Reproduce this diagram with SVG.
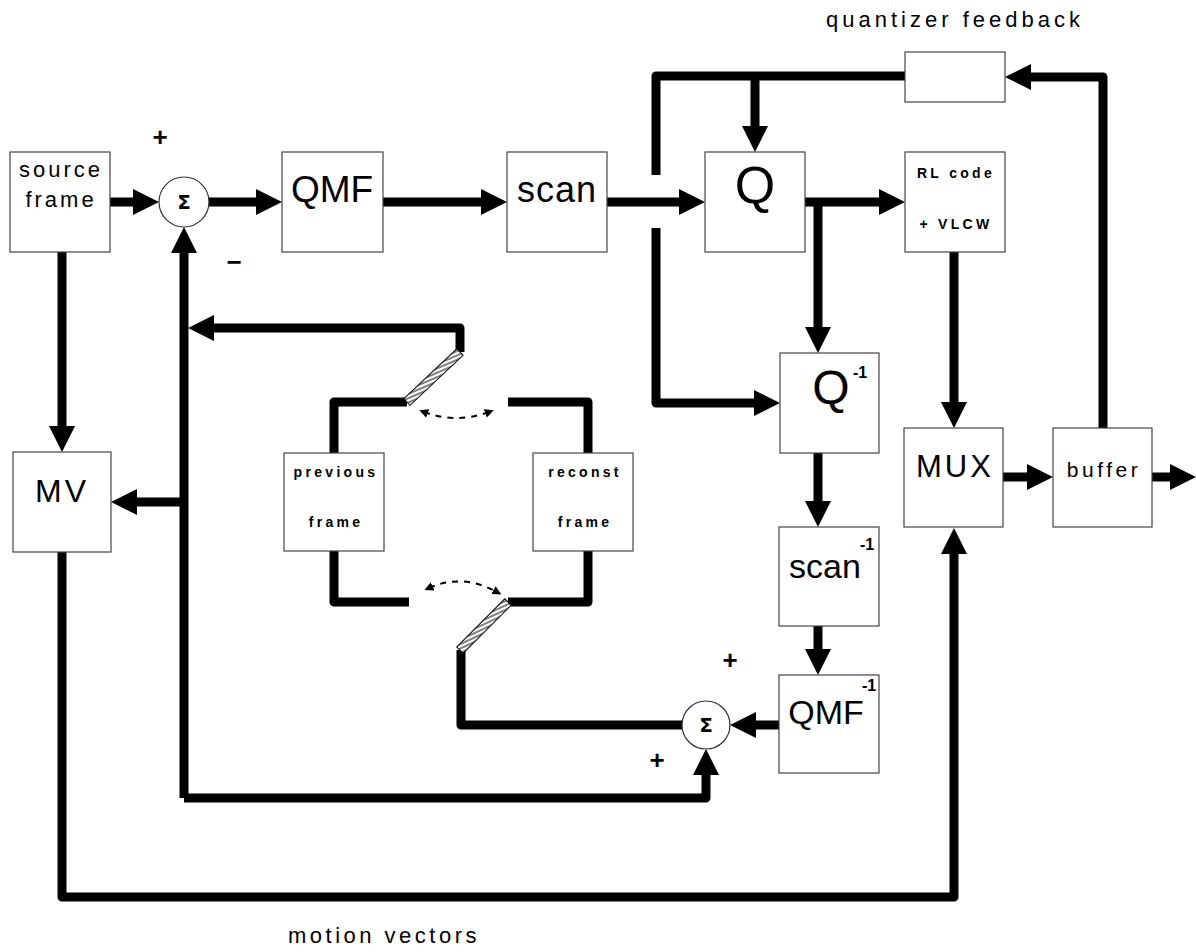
<svg xmlns="http://www.w3.org/2000/svg" width="1196" height="952" viewBox="0 0 1196 952">
<style>
.box{fill:#fff;stroke:#444;stroke-width:1.2}
.c{fill:none;stroke:#000;stroke-width:9;stroke-linejoin:round}
.d{fill:none;stroke:#000;stroke-width:2;stroke-dasharray:6 6}
.t{font-family:"Liberation Sans",Arial,sans-serif;fill:#000;text-anchor:middle}
.s{font-family:"Liberation Sans",Arial,sans-serif;fill:#000;font-weight:bold;font-size:14px;letter-spacing:3.3px;text-anchor:middle}
.sup{font-family:"Liberation Sans",Arial,sans-serif;fill:#000;font-weight:bold;font-size:16px}
.sg{fill:#fff;stroke:#333;stroke-width:1.2}
.sgt{font-family:"DejaVu Sans",sans-serif;font-size:20px;font-weight:bold;text-anchor:middle;fill:#000}
.pm{font-family:"Liberation Sans",Arial,sans-serif;font-weight:bold;font-size:26px;text-anchor:middle;fill:#000}
</style>
<defs>
<marker id="ah" markerUnits="userSpaceOnUse" markerWidth="26" markerHeight="26" viewBox="0 0 26 26" refX="1" refY="13" orient="auto"><path d="M0,0 L26,13 L0,26 z" fill="#000"/></marker>
<marker id="sm" markerUnits="userSpaceOnUse" markerWidth="9" markerHeight="9" viewBox="0 0 9 9" refX="4" refY="4.5" orient="auto-start-reverse"><path d="M0,0 L9,4.5 L0,9 z" fill="#000"/></marker>
<pattern id="hatch" patternUnits="userSpaceOnUse" width="4" height="4" patternTransform="rotate(20)"><rect width="4" height="4" fill="#fff"/><line x1="0" y1="2" x2="4" y2="2" stroke="#000" stroke-width="1"/></pattern>
</defs>
<rect width="1196" height="952" fill="#fff"/>

<g id="connectors">
<path class="c" d="M110 202 H134" marker-end="url(#ah)"/>
<path class="c" d="M208 202 H257" marker-end="url(#ah)"/>
<path class="c" d="M383 202 H482" marker-end="url(#ah)"/>
<path class="c" d="M607 202 H680" marker-end="url(#ah)"/>
<path class="c" d="M805 202 H880" marker-end="url(#ah)"/>
<path class="c" d="M818 202 V328" marker-end="url(#ah)"/>
<path class="c" d="M656 175 V76 H905"/>
<path class="c" d="M755 76 V127" marker-end="url(#ah)"/>
<path class="c" d="M656 228 V403 H755" marker-end="url(#ah)"/>
<path class="c" d="M1103 428 V77 H1030" marker-end="url(#ah)"/>
<path class="c" d="M954 252 V403" marker-end="url(#ah)"/>
<path class="c" d="M1003 477 H1028" marker-end="url(#ah)"/>
<path class="c" d="M1152 477 H1171" marker-end="url(#ah)"/>
<path class="c" d="M62 252 V427" marker-end="url(#ah)"/>
<path class="c" d="M818 453 V502" marker-end="url(#ah)"/>
<path class="c" d="M818 626 V650" marker-end="url(#ah)"/>
<path class="c" d="M779 725 H755" marker-end="url(#ah)"/>
<path class="c" d="M184 798 V252" marker-end="url(#ah)"/>
<path class="c" d="M184 798 H706 V774" marker-end="url(#ah)"/>
<path class="c" d="M184 502 H136" marker-end="url(#ah)"/>
<path class="c" d="M460 352 V328 H213" marker-end="url(#ah)"/>
<path class="c" d="M407 402 H334 V453"/>
<path class="c" d="M334 551 V602 H409"/>
<path class="c" d="M508 402 H588 V453"/>
<path class="c" d="M588 551 V602 H508"/>
<path class="c" d="M461 650 V725 H682"/>
<path class="c" d="M62 552 V897 H954 V553" marker-end="url(#ah)"/>
<g id="switch-top" transform="translate(460,352) rotate(136.7)"><rect x="0" y="-4.5" width="73" height="9" fill="url(#hatch)" stroke="#000" stroke-width="1"/></g>
<g id="switch-bottom" transform="translate(508,602) rotate(135)"><rect x="0" y="-4.5" width="68" height="9" fill="url(#hatch)" stroke="#000" stroke-width="1"/></g>
<path class="d" d="M424 412 Q456 424 489 412" marker-start="url(#sm)" marker-end="url(#sm)"/>
<path class="d" d="M429 588 Q462 573 497 592" marker-start="url(#sm)" marker-end="url(#sm)"/>
</g>

<g id="source-frame"><rect class="box" x="10" y="152" width="100" height="100"/>
<text class="t" x="61" y="177" font-size="22" letter-spacing="3">source</text>
<text class="t" x="61" y="207" font-size="22" letter-spacing="3">frame</text></g>

<g id="sum1"><circle class="sg" cx="184" cy="202" r="25"/><text class="sgt" x="184" y="209">Σ</text>
<text class="pm" x="160" y="146">+</text><text class="pm" x="234" y="271">−</text></g>

<g id="qmf"><rect class="box" x="282" y="152" width="101" height="100"/><text class="t" x="332" y="202" font-size="37">QMF</text></g>
<g id="scan"><rect class="box" x="507" y="152" width="100" height="100"/><text class="t" x="557" y="202" font-size="36" letter-spacing="1">scan</text></g>
<g id="q"><rect class="box" x="705" y="152" width="100" height="100"/><text class="t" x="755" y="203" font-size="52">Q</text></g>
<g id="feedback-box"><rect class="box" x="905" y="52" width="100" height="50"/></g>
<text class="t" x="955" y="27" font-size="22" letter-spacing="4">quantizer feedback</text>
<g id="rl-code"><rect class="box" x="905" y="152" width="100" height="100"/>
<text class="s" x="956" y="178">RL code</text><text class="s" x="956" y="229">+ VLCW</text></g>

<g id="q-inv"><rect class="box" x="780" y="353" width="99" height="100"/><text class="t" x="831" y="404" font-size="48">Q</text><text class="sup" x="853" y="378">-1</text></g>
<g id="scan-inv"><rect class="box" x="779" y="527" width="100" height="99"/><text class="t" x="825" y="578" font-size="34">scan</text><text class="sup" x="860" y="550">-1</text></g>
<g id="qmf-inv"><rect class="box" x="779" y="675" width="100" height="98"/><text class="t" x="826" y="724" font-size="34">QMF</text><text class="sup" x="862" y="691">-1</text></g>
<g id="sum2"><circle class="sg" cx="706" cy="725" r="24"/><text class="sgt" x="706" y="732">Σ</text>
<text class="pm" x="730" y="669">+</text><text class="pm" x="657" y="769">+</text></g>

<g id="mux"><rect class="box" x="904" y="428" width="99" height="99"/><text class="t" x="955" y="477" font-size="31" letter-spacing="3">MUX</text></g>
<g id="buffer"><rect class="box" x="1053" y="428" width="99" height="99"/><text class="t" x="1104" y="477" font-size="21" letter-spacing="3.5">buffer</text></g>
<g id="mv"><rect class="box" x="13" y="452" width="98" height="100"/><text class="t" x="62" y="502" font-size="32" letter-spacing="3">MV</text></g>

<g id="previous-frame"><rect class="box" x="284" y="453" width="100" height="98"/>
<text class="s" x="336" y="477">previous</text><text class="s" x="336" y="527">frame</text></g>
<g id="reconst-frame"><rect class="box" x="533" y="453" width="100" height="98"/>
<text class="s" x="585" y="477">reconst</text><text class="s" x="585" y="527">frame</text></g>

<text class="t" x="384" y="943" font-size="22" letter-spacing="3.5">motion vectors</text>
</svg>
